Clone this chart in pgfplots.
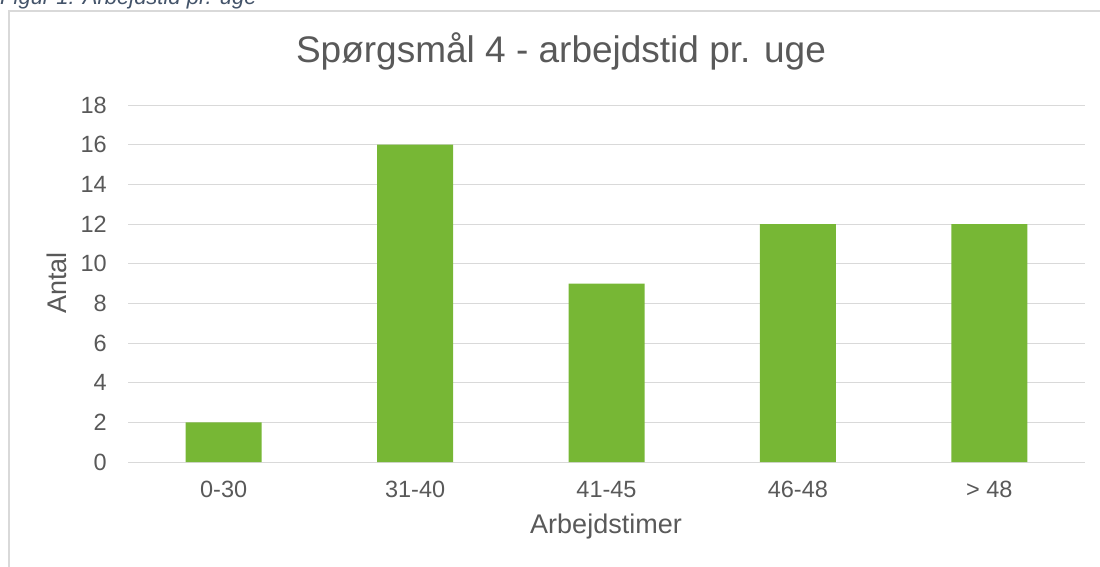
\documentclass[border=0pt]{standalone}
\usepackage{pgfplots}
\pgfplotsset{compat=1.18}
\usepackage{fontspec}
\setmainfont{Liberation Sans}
\definecolor{txt}{HTML}{595959}
\definecolor{gridc}{HTML}{D9D9D9}
\definecolor{barc}{HTML}{77B735}
\definecolor{capc}{HTML}{44546A}
\begin{document}
\begin{tikzpicture}[x=1pt,y=1pt]
\useasboundingbox (0,0) rectangle (1100,566);
\begin{scope}
\clip (0,0) rectangle (1100,566);
\node[anchor=base west, font=\fontsize{22}{26}\selectfont\itshape, text=capc, inner sep=0] at (0,561) {Figur 1: Arbejdstid pr. uge};
\draw[gridc, line width=1.5pt] (9,-5) -- (9,555) -- (1110,555);
\end{scope}
\begin{axis}[
  at={(128pt,104pt)}, anchor=south west,
  scale only axis, width=957pt, height=357pt,
  xmin=-0.5, xmax=4.5, ymin=0, ymax=18,
  xtick={0,1,2,3,4},
  xticklabels={0-30,31-40,41-45,46-48,{> 48}},
  ytick={0,2,...,18},
  axis x line*=bottom, axis y line*=left,
  y axis line style={draw=none},
  x axis line style={draw=gridc, line width=1pt},
  major tick length=0pt,
  ymajorgrids, major grid style={draw=gridc, line width=1pt},
  /pgf/number format/assume math mode=true,
  tick label style={text=txt, font=\fontsize{23.5}{28}\selectfont},
  xticklabel style={anchor=base, inner sep=0pt, yshift=-35pt},
  yticklabel style={anchor=east, inner sep=0pt, xshift=-21pt},
  ybar, bar width=76pt,
  clip=false,
]
\addplot[fill=barc, draw=none] coordinates {(0,2) (1,16) (2,9) (3,12) (4,12)};
\end{axis}
\node[anchor=base, font=\fontsize{37}{44}\selectfont, text=txt, inner sep=0] at (561,503) {Spørgsmål 4 - arbejdstid pr. uge};
\node[anchor=base, font=\fontsize{27}{32}\selectfont, text=txt, inner sep=0] at (606,33) {Arbejdstimer};
\node[anchor=center, rotate=90, font=\fontsize{27}{32}\selectfont, text=txt, inner sep=0] at (57,283) {Antal};
\end{tikzpicture}
\end{document}
